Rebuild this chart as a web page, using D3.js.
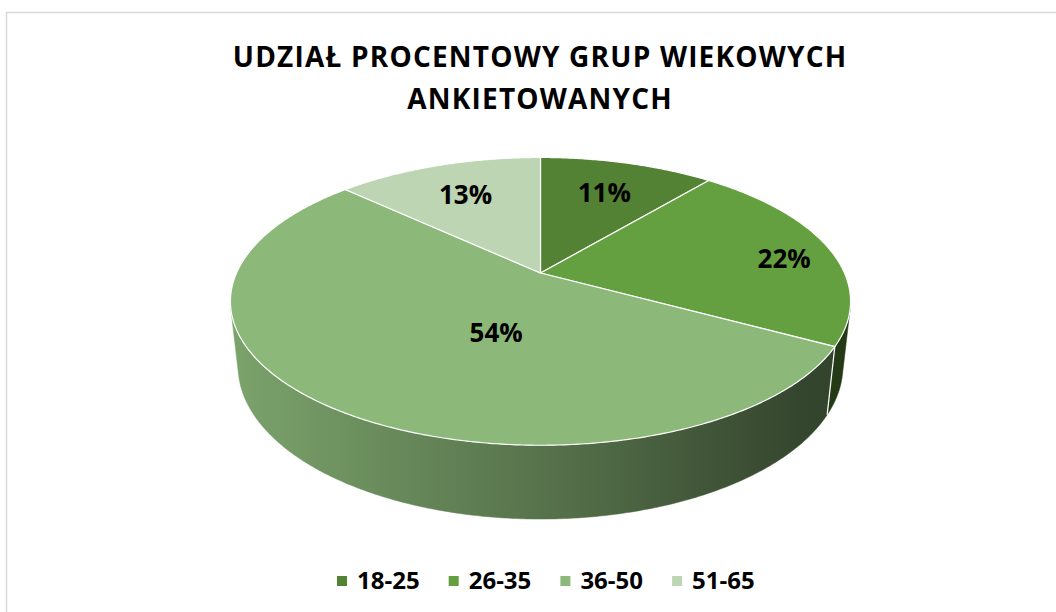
<!DOCTYPE html>
<html>
<head>
<meta charset="utf-8">
<script src="https://cdn.jsdelivr.net/npm/d3@7"></script>
<style>
  html, body { margin: 0; padding: 0; background: #ffffff; }
  svg { display: block; }
</style>
</head>
<body>
<svg id="chart" width="1056" height="612"></svg>
<script>
// ---------------- DATA ----------------
const titleLines = ["UDZIAŁ PROCENTOWY GRUP WIEKOWYCH", "ANKIETOWANYCH"];
const categories = ["18-25", "26-35", "36-50", "51-65"];
const percentValues = [11, 22, 54, 13];
const percentLabels = ["11%", "22%", "54%", "13%"];
const sliceColors = ["#548235", "#65a040", "#8cb97a", "#bdd5b2"];

// ---------------- LAYOUT ----------------
const W = 1056, H = 612;
const svg = d3.select("#chart");
const FONT = "'Open Sans', Lato, sans-serif";

// chart frame
svg.append("rect")
  .attr("x", 6.5).attr("y", 12.5)
  .attr("width", W + 10).attr("height", H + 10)
  .attr("fill", "#fff").attr("stroke", "#d9d9d9").attr("stroke-width", 1.5);

// title
svg.append("g").selectAll("text").data(titleLines).join("text")
  .attr("x", 540.1)
  .attr("y", (d, i) => 66.5 + i * 42)
  .attr("text-anchor", "middle")
  .attr("font-family", FONT).attr("font-weight", 700).attr("font-size", 28)
  .attr("letter-spacing", 1.2)
  .attr("fill", "#000")
  .text(d => d);

// ---------------- 3D PIE PROJECTION ----------------
const cx = 540.5, cy = 273;        // screen position of pie centre
const camDist = 4.52;               // camera distance (in radii)
const sinA = 0.455, cosA = Math.sqrt(1 - sinA * sinA); // elevation
const focal = 1374;                 // focal length in px
const thick = 0.241;                // pie thickness (in radii)

function project(phi, r, z) {
  const x = r * Math.sin(phi), y = r * Math.cos(phi);
  const depth = camDist + y * cosA - z * sinA;
  const up = y * sinA + z * cosA;
  return [cx + focal * x / depth, cy - focal * up / depth];
}

const pie = d3.pie().sort(null).value(d => d)(percentValues);
const color = d3.scaleOrdinal().domain(categories).range(sliceColors);

function arcPoints(a0, a1, r, z) {
  const n = Math.max(2, Math.ceil(Math.abs(a1 - a0) / (Math.PI / 360)));
  return d3.range(n + 1).map(i => project(a0 + (a1 - a0) * i / n, r, z));
}
const line = d3.line();

// visible range of cylinder side (tangent points)
const tang = Math.acos(1 / (camDist * cosA));
const visL = Math.PI - tang, visR = Math.PI + tang;

// gradients for side walls
const defs = svg.append("defs");
categories.forEach((c, i) => {
  const base = d3.rgb(color(c));
  const g = defs.append("linearGradient")
    .attr("id", "side" + i)
    .attr("gradientUnits", "userSpaceOnUse")
    .attr("x1", 230).attr("x2", 850).attr("y1", 0).attr("y2", 0);
  [[0, 0.88], [0.5, 0.62], [0.92, 0.38], [1, 0.36]].forEach(([o, f]) => {
    g.append("stop").attr("offset", o)
      .attr("stop-color", d3.rgb(base.r * f, base.g * f, base.b * f).formatHex());
  });
});

// side walls
const sides = svg.append("g");
pie.forEach((p, i) => {
  const a0 = Math.max(p.startAngle, visL), a1 = Math.min(p.endAngle, visR);
  if (a1 <= a0) return;
  const top = arcPoints(a0, a1, 1, 0);
  const bot = arcPoints(a1, a0, 1, -thick);
  sides.append("path")
    .attr("d", line(top.concat(bot)) + "Z")
    .attr("fill", `url(#side${i})`)
    .attr("stroke", `url(#side${i})`).attr("stroke-width", 0.5);
});
// white edges between side walls
pie.forEach(p => {
  const a = p.startAngle;
  if (a > visL && a < visR) {
    sides.append("path")
      .attr("d", line([project(a, 1, 0), project(a, 1, -thick)]))
      .attr("stroke", "#fff").attr("stroke-width", 1.2).attr("fill", "none");
  }
});

// top faces
const tops = svg.append("g");
pie.forEach((p, i) => {
  const pts = [project(0, 0, 0)].concat(arcPoints(p.startAngle, p.endAngle, 1, 0));
  tops.append("path")
    .attr("d", line(pts) + "Z")
    .attr("fill", color(categories[i]))
    .attr("stroke", "#fff").attr("stroke-width", 1.2)
    .attr("stroke-linejoin", "round");
});

// data labels (placement in pie-space: radius fraction, angle in degrees)
const labelPlace = [[0.70, 19.8], [0.825, 82.6], [0.416, 198.9], [0.70, 336.6]];
svg.append("g").selectAll("text").data(pie).join("text")
  .each(function (d, i) {
    const [r, deg] = labelPlace[i];
    const [x, y] = project(deg * Math.PI / 180, r, 0);
    d3.select(this).attr("x", x).attr("y", y + 9.5);
  })
  .attr("text-anchor", "middle")
  .attr("font-family", FONT).attr("font-weight", 700).attr("font-size", 26)
  .attr("fill", "#000")
  .text((d, i) => percentLabels[i]);

// legend
const legend = svg.append("g").selectAll("g").data(categories).join("g")
  .attr("transform", (d, i) => `translate(${337 + i * 111.7},580.5)`);
legend.append("rect")
  .attr("x", 0).attr("y", -4.5).attr("width", 10).attr("height", 10)
  .attr("fill", d => color(d));
legend.append("text")
  .attr("x", 20).attr("y", 8.5)
  .attr("font-family", FONT).attr("font-weight", 700).attr("font-size", 24)
  .attr("fill", "#000")
  .text(d => d);
</script>
</body>
</html>
